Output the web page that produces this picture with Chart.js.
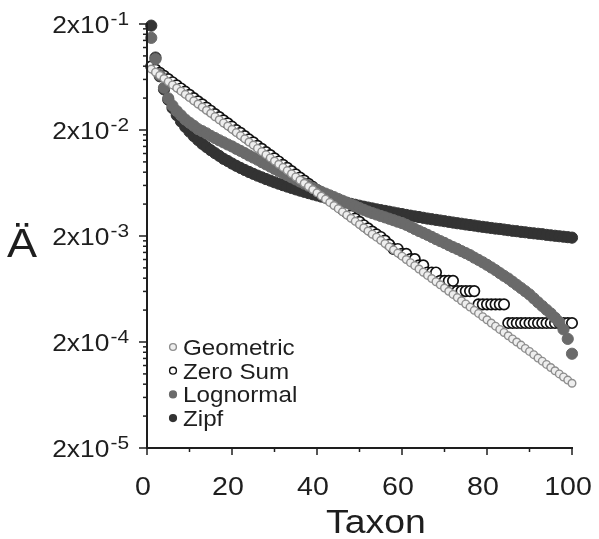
<!DOCTYPE html>
<html>
<head>
<meta charset="utf-8">
<script src="https://cdn.jsdelivr.net/npm/chart.js@4"></script>
<style>
  html, body { margin: 0; padding: 0; background: #fff; }
  #wrap { width: 599px; height: 539px; position: relative; }
</style>
</head>
<body>
<div id="wrap"><canvas id="rank"></canvas></div>
<script>
// rank abundance, 100 taxa
const taxa = Array.from({ length: 100 }, (_, i) => i + 1);

const geometric = [
  0.0752, 0.0702, 0.0655, 0.0612, 0.0571, 0.0533, 0.0498, 0.0465, 0.0434, 0.0405,
  0.0377, 0.0352, 0.0329, 0.0307, 0.0287, 0.0267, 0.0250, 0.0233, 0.0218, 0.0203,
  0.0189, 0.0177, 0.0165, 0.0154, 0.0144, 0.0134, 0.0125, 0.0117, 0.0109, 0.0102,
  0.00950, 0.00887, 0.00828, 0.00773, 0.00721, 0.00673, 0.00629, 0.00587, 0.00548, 0.00511,
  0.00477, 0.00445, 0.00415, 0.00388, 0.00362, 0.00338, 0.00315, 0.00294, 0.00275, 0.00257,
  0.00239, 0.00223, 0.00208, 0.00195, 0.00182, 0.00170, 0.00158, 0.00148, 0.00138, 0.00129,
  0.00120, 0.00112, 0.00105, 0.000976, 0.000911, 0.000850, 0.000794, 0.000741, 0.000692, 0.000646,
  0.000602, 0.000562, 0.000525, 0.000490, 0.000457, 0.000427, 0.000398, 0.000372, 0.000347, 0.000324,
  0.000302, 0.000282, 0.000263, 0.000246, 0.000229, 0.000214, 0.000200, 0.000187, 0.000174, 0.000163,
  0.000152, 0.000141, 0.000132, 0.000123, 0.000115, 0.000107, 0.000100, 0.0000936, 0.0000874, 0.0000816
];

const zeroSum = [
  0.0797, 0.0744, 0.0694, 0.0649, 0.0605, 0.0565, 0.0528, 0.0493, 0.0460, 0.0429,
  0.0400, 0.0373, 0.0349, 0.0325, 0.0304, 0.0283, 0.0265, 0.0247, 0.0231, 0.0215,
  0.0200, 0.0188, 0.0175, 0.0163, 0.0153, 0.0142, 0.0133, 0.0124, 0.0116, 0.0108,
  0.0101, 0.00940, 0.00878, 0.00819, 0.00764, 0.00713, 0.00667, 0.00622, 0.00581, 0.00542,
  0.00506, 0.00472, 0.00440, 0.00411, 0.00384, 0.00358, 0.00334, 0.00312, 0.00292, 0.00272,
  0.00253, 0.00236, 0.00220, 0.00207, 0.00196, 0.00181, 0.00166, 0.00151, 0.00151, 0.00136,
  0.00136, 0.00121, 0.00121, 0.00106, 0.00106, 0.000906, 0.000906, 0.000906, 0.000755, 0.000755,
  0.000755, 0.000755, 0.000604, 0.000604, 0.000604, 0.000604, 0.000604, 0.000453, 0.000453, 0.000453,
  0.000453, 0.000453, 0.000453, 0.000453, 0.000302, 0.000302, 0.000302, 0.000302, 0.000302, 0.000302,
  0.000302, 0.000302, 0.000302, 0.000302, 0.000302, 0.000302, 0.000302, 0.000302, 0.000302, 0.000302
];

const lognormal = [
  0.148, 0.0933, 0.0661, 0.0501, 0.0398, 0.0339, 0.0302, 0.0275, 0.0251, 0.0234,
  0.0219, 0.0204, 0.0195, 0.0186, 0.0176, 0.0168, 0.0160, 0.0153, 0.0146, 0.0140,
  0.0133, 0.0127, 0.0121, 0.0115, 0.0110, 0.0105, 0.00995, 0.00948, 0.00904, 0.00861,
  0.00822, 0.00785, 0.00750, 0.00716, 0.00684, 0.00653, 0.00624, 0.00596, 0.00569, 0.00543,
  0.00522, 0.00502, 0.00483, 0.00465, 0.00447, 0.00430, 0.00413, 0.00397, 0.00382, 0.00367,
  0.00353, 0.00340, 0.00329, 0.00319, 0.00309, 0.00300, 0.00291, 0.00282, 0.00273, 0.00265,
  0.00255, 0.00244, 0.00233, 0.00223, 0.00214, 0.00205, 0.00196, 0.00187, 0.00179, 0.00172,
  0.00164, 0.00157, 0.00151, 0.00144, 0.00138, 0.00132, 0.00125, 0.00119, 0.00113, 0.00107,
  0.00101, 0.000953, 0.000895, 0.000841, 0.000794, 0.000741, 0.000692, 0.000646, 0.000603, 0.000562,
  0.000516, 0.000474, 0.000437, 0.000403, 0.000372, 0.000339, 0.000309, 0.000263, 0.000214, 0.000155
];

const zipf = [
  0.193, 0.0965, 0.0643, 0.0483, 0.0386, 0.0322, 0.0276, 0.0241, 0.0214, 0.0193,
  0.0175, 0.0161, 0.0148, 0.0138, 0.0129, 0.0121, 0.0114, 0.0107, 0.0102, 0.00965,
  0.00919, 0.00877, 0.00839, 0.00804, 0.00772, 0.00742, 0.00715, 0.00689, 0.00666, 0.00643,
  0.00623, 0.00603, 0.00585, 0.00568, 0.00551, 0.00536, 0.00522, 0.00508, 0.00495, 0.00483,
  0.00471, 0.00460, 0.00449, 0.00439, 0.00429, 0.00420, 0.00411, 0.00402, 0.00394, 0.00386,
  0.00378, 0.00371, 0.00364, 0.00357, 0.00351, 0.00345, 0.00339, 0.00333, 0.00327, 0.00322,
  0.00316, 0.00311, 0.00306, 0.00302, 0.00297, 0.00292, 0.00288, 0.00284, 0.00280, 0.00276,
  0.00272, 0.00268, 0.00264, 0.00261, 0.00257, 0.00254, 0.00251, 0.00247, 0.00244, 0.00241,
  0.00238, 0.00235, 0.00233, 0.00230, 0.00227, 0.00224, 0.00222, 0.00219, 0.00217, 0.00214,
  0.00212, 0.00210, 0.00208, 0.00205, 0.00203, 0.00201, 0.00199, 0.00197, 0.00195, 0.00193
];

const xTicks = [0, 10, 20, 30, 40, 50, 60, 70, 80, 90, 100];
const xLabels = [0, 20, 40, 60, 80, 100];
const yMajor = [2e-5, 2e-4, 2e-3, 2e-2, 2e-1];
const yExp = ['-5', '-4', '-3', '-2', '-1'];
const seriesNames = ['Geometric', 'Zero Sum', 'Lognormal', 'Zipf'];

const ink = '#1e1e1e';
const font = "'Liberation Sans', Arial, sans-serif";
const stretch = 1.1; // the scanned figure's type is a bit wide

const pts = arr => arr.map((v, i) => ({ x: taxa[i], y: v }));

// text widened around its anchor
function wideText(ctx, txt, x, y, align) {
  ctx.save();
  ctx.translate(x, y);
  ctx.scale(stretch, 1);
  ctx.textAlign = align;
  ctx.fillText(txt, 0, 0);
  ctx.restore();
}

// axes, ticks, labels and legend drawn by hand
const decor = {
  id: 'decor',
  afterDraw(chart) {
    const { ctx, chartArea: a } = chart;
    const x = chart.scales.x, y = chart.scales.y;
    const line = (x1, y1, x2, y2) => { ctx.beginPath(); ctx.moveTo(x1, y1); ctx.lineTo(x2, y2); ctx.stroke(); };
    ctx.save();
    ctx.strokeStyle = ink;
    ctx.fillStyle = ink;

    // axis lines
    ctx.lineWidth = 2;
    line(a.left, y.getPixelForValue(yMajor[yMajor.length - 1]) - 1, a.left, a.bottom + 1);
    line(a.left - 1, a.bottom, x.getPixelForValue(100) + 1, a.bottom);

    // y ticks
    ctx.lineWidth = 1.5;
    yMajor.forEach((v, k) => {
      const py = y.getPixelForValue(v);
      line(a.left - 8, py, a.left, py);
      if (k < yMajor.length - 1) {
        for (let m = 2; m <= 9; m++) {
          const pm = y.getPixelForValue(v * m);
          line(a.left - 4, pm, a.left, pm);
        }
      }
    });
    // x ticks
    xTicks.forEach(t => {
      const px = x.getPixelForValue(t);
      line(px, a.bottom, px, a.bottom + (t % 20 === 0 ? 7 : 4));
    });

    // y labels 2x10^n
    yMajor.forEach((v, k) => {
      const py = y.getPixelForValue(v);
      ctx.font = '19px ' + font;
      const sw = ctx.measureText(yExp[k]).width * stretch;
      wideText(ctx, yExp[k], 129, py + 1, 'right');
      ctx.font = '24px ' + font;
      wideText(ctx, '2x10', 129 - sw - 1, py + 8.5, 'right');
    });

    // x labels
    ctx.font = '26px ' + font;
    xLabels.forEach(t => {
      wideText(ctx, String(t), x.getPixelForValue(t) - 4, 495, 'center');
    });

    // axis titles
    ctx.font = '34px ' + font;
    wideText(ctx, 'Taxon', 376, 533, 'center');
    ctx.font = '41px ' + font;
    wideText(ctx, 'Ä', 22, 257, 'center');

    // legend
    const ds = chart.data.datasets;
    ctx.font = '22px ' + font;
    seriesNames.forEach((name, k) => {
      const base = 355 + k * 23.7;
      const d = ds[k];
      ctx.beginPath();
      ctx.arc(173, base - 8, 3.4, 0, Math.PI * 2);
      ctx.fillStyle = d.backgroundColor;
      ctx.fill();
      ctx.lineWidth = 1.4;
      ctx.strokeStyle = d.borderColor;
      ctx.stroke();
      ctx.fillStyle = ink;
      wideText(ctx, name, 183, base, 'left');
    });
    ctx.restore();
  }
};

new Chart(document.getElementById('rank'), {
  type: 'scatter',
  data: {
    datasets: [
      {
        label: seriesNames[0],
        data: pts(geometric),
        pointRadius: 3.8,
        borderWidth: 1.4,
        borderColor: '#8e8e8e',
        backgroundColor: '#eeeeee',
        order: 0
      },
      {
        label: seriesNames[1],
        data: pts(zeroSum),
        pointRadius: 5.2,
        borderWidth: 1.7,
        borderColor: '#111111',
        backgroundColor: '#ffffff',
        order: 2
      },
      {
        label: seriesNames[2],
        data: pts(lognormal),
        pointRadius: 5.6,
        borderWidth: 1,
        borderColor: '#6a6a6a',
        backgroundColor: '#6a6a6a',
        order: 1
      },
      {
        label: seriesNames[3],
        data: pts(zipf),
        pointRadius: 5.6,
        borderWidth: 1,
        borderColor: '#333333',
        backgroundColor: '#333333',
        order: 3
      }
    ]
  },
  options: {
    responsive: true,
    maintainAspectRatio: false,
    animation: false,
    clip: false,
    layout: { padding: { top: 24, right: 27, left: 0, bottom: 0 } },
    plugins: {
      legend: { display: false },
      tooltip: { enabled: false }
    },
    scales: {
      x: {
        type: 'linear',
        min: 0,
        max: 100,
        grid: { display: false },
        border: { display: false },
        ticks: { display: false },
        afterFit: s => { s.height = 91; }
      },
      y: {
        type: 'logarithmic',
        min: 2e-5,
        max: 0.2,
        grid: { display: false },
        border: { display: false },
        ticks: { display: false },
        afterFit: s => { s.width = 147; }
      }
    }
  },
  plugins: [decor]
});
</script>
</body>
</html>
